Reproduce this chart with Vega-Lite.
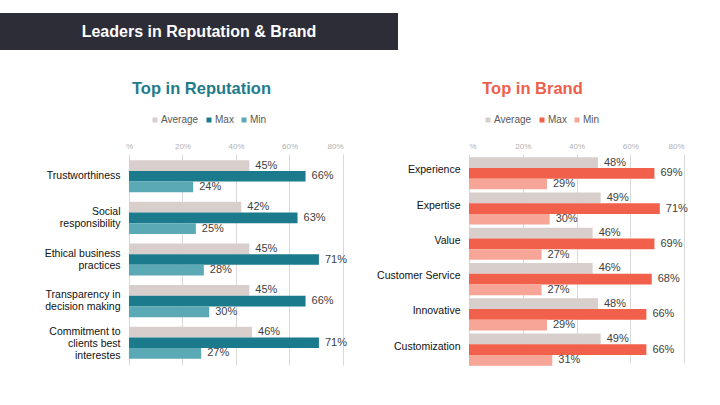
{
  "$schema": "https://vega.github.io/schema/vega-lite/v6.json",
  "padding": {"left": 0, "top": 13, "right": 0, "bottom": 0},
  "background": "white",
  "config": {
    "view": {"stroke": null},
    "font": "Liberation Sans",
    "axis": {"domain": false, "ticks": false, "title": null},
    "legend": {
      "orient": "none", "direction": "horizontal", "title": null,
      "symbolType": "square", "symbolSize": 25, "symbolStrokeWidth": 0,
      "labelFontSize": 10, "labelColor": "#595959", "labelOffset": 1, "columnPadding": 5
    }
  },
  "datasets": {
    "reputation": [
      {"item": "Trustworthiness", "series": "Average", "value": 0.45},
      {"item": "Trustworthiness", "series": "Max", "value": 0.66},
      {"item": "Trustworthiness", "series": "Min", "value": 0.24},
      {"item": "Social responsibility", "series": "Average", "value": 0.42},
      {"item": "Social responsibility", "series": "Max", "value": 0.63},
      {"item": "Social responsibility", "series": "Min", "value": 0.25},
      {"item": "Ethical business practices", "series": "Average", "value": 0.45},
      {"item": "Ethical business practices", "series": "Max", "value": 0.71},
      {"item": "Ethical business practices", "series": "Min", "value": 0.28},
      {"item": "Transparency in decision making", "series": "Average", "value": 0.45},
      {"item": "Transparency in decision making", "series": "Max", "value": 0.66},
      {"item": "Transparency in decision making", "series": "Min", "value": 0.30},
      {"item": "Commitment to clients best interestes", "series": "Average", "value": 0.46},
      {"item": "Commitment to clients best interestes", "series": "Max", "value": 0.71},
      {"item": "Commitment to clients best interestes", "series": "Min", "value": 0.27}
    ],
    "brand": [
      {"item": "Experience", "series": "Average", "value": 0.48},
      {"item": "Experience", "series": "Max", "value": 0.69},
      {"item": "Experience", "series": "Min", "value": 0.29},
      {"item": "Expertise", "series": "Average", "value": 0.49},
      {"item": "Expertise", "series": "Max", "value": 0.71},
      {"item": "Expertise", "series": "Min", "value": 0.30},
      {"item": "Value", "series": "Average", "value": 0.46},
      {"item": "Value", "series": "Max", "value": 0.69},
      {"item": "Value", "series": "Min", "value": 0.27},
      {"item": "Customer Service", "series": "Average", "value": 0.46},
      {"item": "Customer Service", "series": "Max", "value": 0.68},
      {"item": "Customer Service", "series": "Min", "value": 0.27},
      {"item": "Innovative", "series": "Average", "value": 0.48},
      {"item": "Innovative", "series": "Max", "value": 0.66},
      {"item": "Innovative", "series": "Min", "value": 0.29},
      {"item": "Customization", "series": "Average", "value": 0.49},
      {"item": "Customization", "series": "Max", "value": 0.66},
      {"item": "Customization", "series": "Min", "value": 0.31}
    ]
  },
  "spacing": 30,
  "vconcat": [
    {
      "width": 398,
      "height": 37,
      "data": {"values": [{"label": "Leaders in Reputation & Brand"}]},
      "layer": [
        {"mark": {"type": "rect", "color": "#2d2d37"}, "encoding": {}},
        {
          "mark": {"type": "text", "color": "white", "fontSize": 16, "fontWeight": "bold"},
          "encoding": {"text": {"field": "label"}}
        }
      ]
    },
    {
      "spacing": 12,
      "hconcat": [
        {
          "width": 343,
          "height": 211,
          "title": {"text": "Top in Reputation", "color": "#1f7b8c", "fontSize": 16.5, "fontWeight": "bold", "offset": 18, "dx": 30},
          "data": {"name": "reputation"},
          "encoding": {
            "y": {
              "field": "item", "type": "nominal", "sort": null,
              "scale": {"paddingInner": 0.23, "paddingOuter": 0.15},
              "axis": {
                "offset": -129, "grid": false,
                "labelFontSize": 10.5, "labelColor": "#111111", "labelPadding": 9,
                "labelLineHeight": 12, "labelLimit": 200,
                "labelOffset": {"condition": {"test": "datum.value != 'Trustworthiness'", "value": -6}, "value": 0},
                "labelBaseline": {"condition": {"test": "datum.value == 'Commitment to clients best interestes'", "value": "bottom"}, "value": "middle"},
                "labelExpr": "datum.value == 'Social responsibility' ? ['Social', 'responsibility'] : datum.value == 'Ethical business practices' ? ['Ethical business', 'practices'] : datum.value == 'Transparency in decision making' ? ['Transparency in', 'decision making'] : datum.value == 'Commitment to clients best interestes' ? ['Commitment to', 'clients best', 'interestes'] : datum.value"
              }
            },
            "yOffset": {"field": "series", "type": "nominal", "scale": {"domain": ["Average", "Max", "Min"]}},
            "x": {
              "field": "value", "type": "quantitative",
              "scale": {"domain": [-0.482, 0.8]},
              "axis": {
                "orient": "top", "values": [0, 0.2, 0.4, 0.6, 0.8],
                "labelFontSize": 8, "labelColor": "#b0b0b0", "labelPadding": 4,
                "gridColor": "#d9d9d9",
                "labelExpr": "datum.value == 0 ? '%' : format(datum.value, '.0%')"
              }
            }
          },
          "layer": [
            {
              "mark": {"type": "bar"},
              "encoding": {
                "color": {
                  "field": "series", "type": "nominal",
                  "scale": {"domain": ["Average", "Max", "Min"], "range": ["#d8cfcd", "#1b7a8c", "#5ba9b5"]},
                  "legend": {"legendX": 150, "legendY": -39}
                }
              }
            },
            {
              "mark": {"type": "text", "align": "left", "baseline": "middle", "dx": 6, "fontSize": 11, "color": "#404040"},
              "encoding": {"text": {"field": "value", "type": "quantitative", "format": ".0%"}}
            }
          ]
        },
        {
          "width": 215,
          "height": 209,
          "title": {"text": "Top in Brand", "color": "#ee5f4b", "fontSize": 16.5, "fontWeight": "bold", "offset": 18, "dx": -44},
          "data": {"name": "brand"},
          "encoding": {
            "y": {
              "field": "item", "type": "nominal", "sort": null,
              "scale": {"paddingInner": 0.26, "paddingOuter": 0.094},
              "axis": {
                "labelFontSize": 10.5, "labelColor": "#111111", "labelPadding": 9,
                "minExtent": 110, "maxExtent": 110, "labelLimit": 200
              }
            },
            "yOffset": {"field": "series", "type": "nominal", "scale": {"domain": ["Average", "Max", "Min"]}},
            "x": {
              "field": "value", "type": "quantitative",
              "scale": {"domain": [0, 0.8]},
              "axis": {
                "orient": "top", "values": [0, 0.2, 0.4, 0.6, 0.8],
                "labelFontSize": 8, "labelColor": "#b0b0b0", "labelPadding": 4,
                "gridColor": "#d9d9d9",
                "labelExpr": "datum.value == 0 ? '%' : format(datum.value, '.0%')"
              }
            }
          },
          "layer": [
            {
              "mark": {"type": "bar"},
              "encoding": {
                "color": {
                  "field": "series", "type": "nominal",
                  "scale": {"domain": ["Average", "Max", "Min"], "range": ["#d8cfcd", "#f0604a", "#f7a596"]},
                  "legend": {"legendX": 14, "legendY": -39}
                }
              }
            },
            {
              "mark": {"type": "text", "align": "left", "baseline": "middle", "dx": 6, "fontSize": 11, "color": "#404040"},
              "encoding": {"text": {"field": "value", "type": "quantitative", "format": ".0%"}}
            }
          ]
        }
      ],
      "resolve": {"scale": {"color": "independent"}}
    }
  ]
}
